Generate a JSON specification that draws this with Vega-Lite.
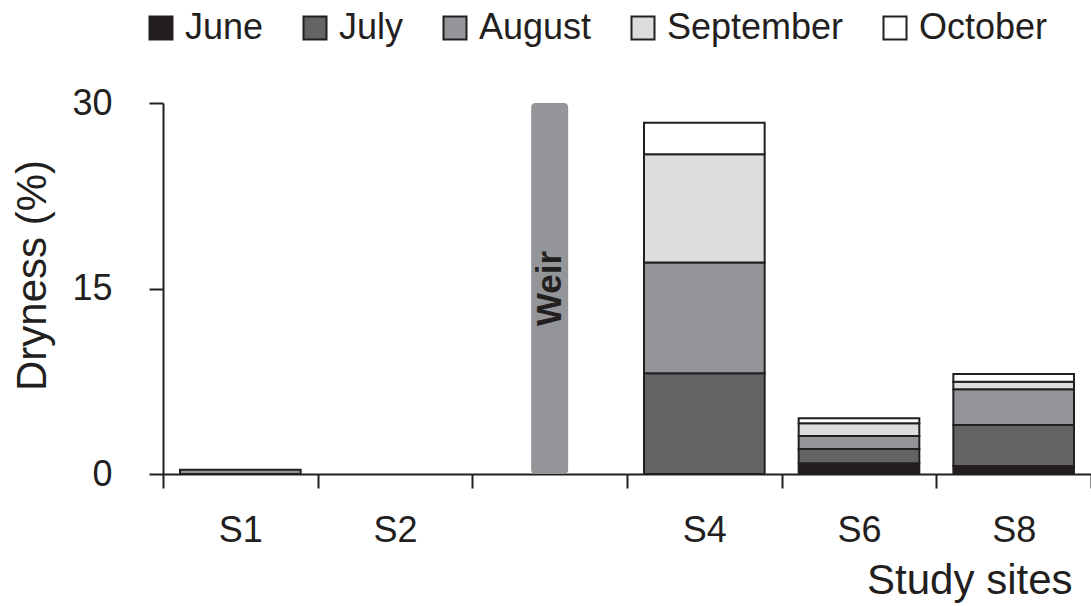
{
  "$schema": "https://vega.github.io/schema/vega-lite/v6.json",
  "width": 928,
  "height": 371,
  "autosize": {"type": "none"},
  "padding": {"left": 163, "top": 103, "right": 0, "bottom": 132},
  "background": "white",
  "config": {
    "font": "Liberation Sans",
    "view": {"stroke": null},
    "axis": {
      "grid": false,
      "domainColor": "#231f20",
      "domainWidth": 2,
      "tickColor": "#231f20",
      "tickWidth": 2,
      "tickSize": 14,
      "labelColor": "#231f20",
      "labelFontSize": 36,
      "titleColor": "#231f20",
      "titleFontSize": 42,
      "titleFontWeight": "normal"
    }
  },
  "datasets": {
    "dryness": [
      {"site": "S1", "month": "August", "m": 3, "value": 0.35},
      {"site": "S4", "month": "July", "m": 2, "value": 8.15},
      {"site": "S4", "month": "August", "m": 3, "value": 8.95},
      {"site": "S4", "month": "September", "m": 4, "value": 8.75},
      {"site": "S4", "month": "October", "m": 5, "value": 2.55},
      {"site": "S6", "month": "June", "m": 1, "value": 0.87},
      {"site": "S6", "month": "July", "m": 2, "value": 1.16},
      {"site": "S6", "month": "August", "m": 3, "value": 1.05},
      {"site": "S6", "month": "September", "m": 4, "value": 1.03},
      {"site": "S6", "month": "October", "m": 5, "value": 0.4},
      {"site": "S8", "month": "June", "m": 1, "value": 0.65},
      {"site": "S8", "month": "July", "m": 2, "value": 3.31},
      {"site": "S8", "month": "August", "m": 3, "value": 2.89},
      {"site": "S8", "month": "September", "m": 4, "value": 0.61},
      {"site": "S8", "month": "October", "m": 5, "value": 0.62}
    ],
    "weir": [
      {"site": "Weir", "bottom": 0, "top": 30, "mid": 15, "label": "Weir"}
    ]
  },
  "encoding": {
    "x": {
      "field": "site",
      "type": "nominal",
      "scale": {
        "domain": ["S1", "S2", "Weir", "S4", "S6", "S8"],
        "paddingInner": 0,
        "paddingOuter": 0
      },
      "axis": {
        "title": "Study sites",
        "labelAngle": 0,
        "tickBand": "extent",
        "labelBaseline": "alphabetic",
        "labelPadding": 53,
        "labelExpr": "datum.value == 'Weir' ? '' : datum.value",
        "titleX": 909,
        "titleY": 119,
        "titleAlign": "right",
        "titleBaseline": "alphabetic",
        "titleAnchor": null
      }
    }
  },
  "layer": [
    {
      "data": {"name": "dryness"},
      "mark": {
        "type": "bar",
        "width": {"band": 0.78},
        "stroke": "#231f20",
        "strokeWidth": 2
      },
      "encoding": {
        "y": {
          "field": "value",
          "type": "quantitative",
          "stack": "zero",
          "scale": {"domain": [0, 30], "nice": false},
          "axis": {
            "title": "Dryness (%)",
            "values": [0, 15, 30],
            "labelPadding": 37,
            "titleAngle": 270,
            "titleX": -118,
            "titleY": 172,
            "titleAlign": "center",
            "titleBaseline": "alphabetic"
          }
        },
        "color": {
          "field": "month",
          "type": "nominal",
          "scale": {
            "domain": ["June", "July", "August", "September", "October"],
            "range": ["#231f20", "#636466", "#939598", "#dcdddf", "#ffffff"]
          },
          "legend": {
            "title": null,
            "orient": "none",
            "direction": "horizontal",
            "legendX": -20,
            "legendY": -93,
            "padding": 0,
            "symbolType": "square",
            "symbolSize": 529,
            "symbolStrokeColor": "#231f20",
            "symbolStrokeWidth": 2,
            "labelFontSize": 36,
            "labelColor": "#231f20",
            "labelLimit": 0,
            "labelOffset": 6,
            "columnPadding": 33
          }
        },
        "order": {"field": "m", "type": "quantitative"}
      }
    },
    {
      "data": {"name": "weir"},
      "mark": {"type": "bar", "width": 37, "cornerRadius": 4, "color": "#939598"},
      "encoding": {
        "y": {"field": "bottom", "type": "quantitative"},
        "y2": {"field": "top"}
      }
    },
    {
      "data": {"name": "weir"},
      "mark": {
        "type": "text",
        "angle": 270,
        "fontSize": 35,
        "fontWeight": "bold",
        "color": "#231f20",
        "align": "center",
        "baseline": "middle"
      },
      "encoding": {
        "y": {"field": "mid", "type": "quantitative"},
        "text": {"field": "label"}
      }
    }
  ]
}
